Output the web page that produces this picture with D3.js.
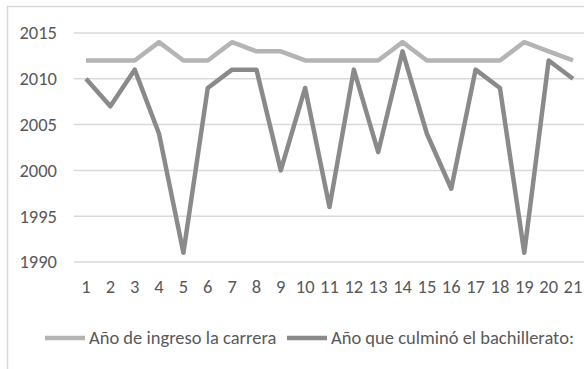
<!DOCTYPE html>
<html>
<head>
<meta charset="utf-8">
<script src="https://cdn.jsdelivr.net/npm/d3@7"></script>
<style>
  body { margin: 0; background: #fff; }
  svg { display: block; }
</style>
</head>
<body>
<script>
// categories (student number) and the two series of years
const categories = d3.range(1, 22);
const ingreso = [2012, 2012, 2012, 2014, 2012, 2012, 2014, 2013, 2013, 2012, 2012,
                 2012, 2012, 2014, 2012, 2012, 2012, 2012, 2014, 2013, 2012];
const bachillerato = [2010, 2007, 2011, 2004, 1991, 2009, 2011, 2011, 2000, 2009, 1996,
                      2011, 2002, 2013, 2004, 1998, 2011, 2009, 1991, 2012, 2010];
const yTicks = [1990, 1995, 2000, 2005, 2010, 2015];
const seriesNames = ["Año de ingreso la carrera", "Año que culminó el bachillerato:"];

const width = 584, height = 369;
const font = "Carlito, 'Open Sans', sans-serif";

const svg = d3.select("body").append("svg")
    .attr("width", width)
    .attr("height", height)
    .style("font-family", font);

// chart frame (cropped on the right/bottom)
svg.append("path")
    .attr("d", `M7.5,${height} V6.5 H${width}`)
    .attr("fill", "none")
    .attr("stroke", "#d9d9d9")
    .attr("stroke-width", 1.5);

const x = d3.scalePoint()
    .domain(categories)
    .range([86, 573]);

const y = d3.scaleLinear()
    .domain([1990, 2015])
    .range([262, 33]);

// gridlines
svg.append("g")
    .selectAll("line")
    .data(yTicks)
    .join("line")
    .attr("x1", 74)
    .attr("x2", width)
    .attr("y1", d => y(d))
    .attr("y2", d => y(d))
    .attr("stroke", "#d9d9d9")
    .attr("stroke-width", 1.5);

// y axis labels
svg.append("g")
    .selectAll("text")
    .data(yTicks)
    .join("text")
    .attr("x", 57)
    .attr("y", d => y(d))
    .attr("dy", "0.35em")
    .attr("text-anchor", "end")
    .attr("fill", "#595959")
    .style("font-size", "18.5px")
    .text(d => d);

// x axis labels
svg.append("g")
    .selectAll("text")
    .data(categories)
    .join("text")
    .attr("x", d => x(d))
    .attr("y", 287)
    .attr("dy", "0.35em")
    .attr("text-anchor", "middle")
    .attr("fill", "#595959")
    .style("font-size", "18.5px")
    .text(d => d);

const line = d3.line()
    .x((d, i) => x(categories[i]))
    .y(d => y(d));

const colors = ["#b4b4b4", "#8a8a8a"];

[ingreso, bachillerato].forEach((s, k) => {
    svg.append("path")
        .datum(s)
        .attr("d", line)
        .attr("fill", "none")
        .attr("stroke", colors[k])
        .attr("stroke-width", 4.5)
        .attr("stroke-linejoin", "round");
});

// legend
const legend = svg.append("g");
const legendX = [45, 287];
seriesNames.forEach((name, k) => {
    legend.append("line")
        .attr("x1", legendX[k])
        .attr("x2", legendX[k] + 40)
        .attr("y1", 338)
        .attr("y2", 338)
        .attr("stroke", colors[k])
        .attr("stroke-width", 4.5);
    legend.append("text")
        .attr("x", legendX[k] + 44)
        .attr("y", 338)
        .attr("dy", "0.35em")
        .attr("fill", "#595959")
        .style("font-size", "18.5px")
        .text(name);
});
</script>
</body>
</html>
